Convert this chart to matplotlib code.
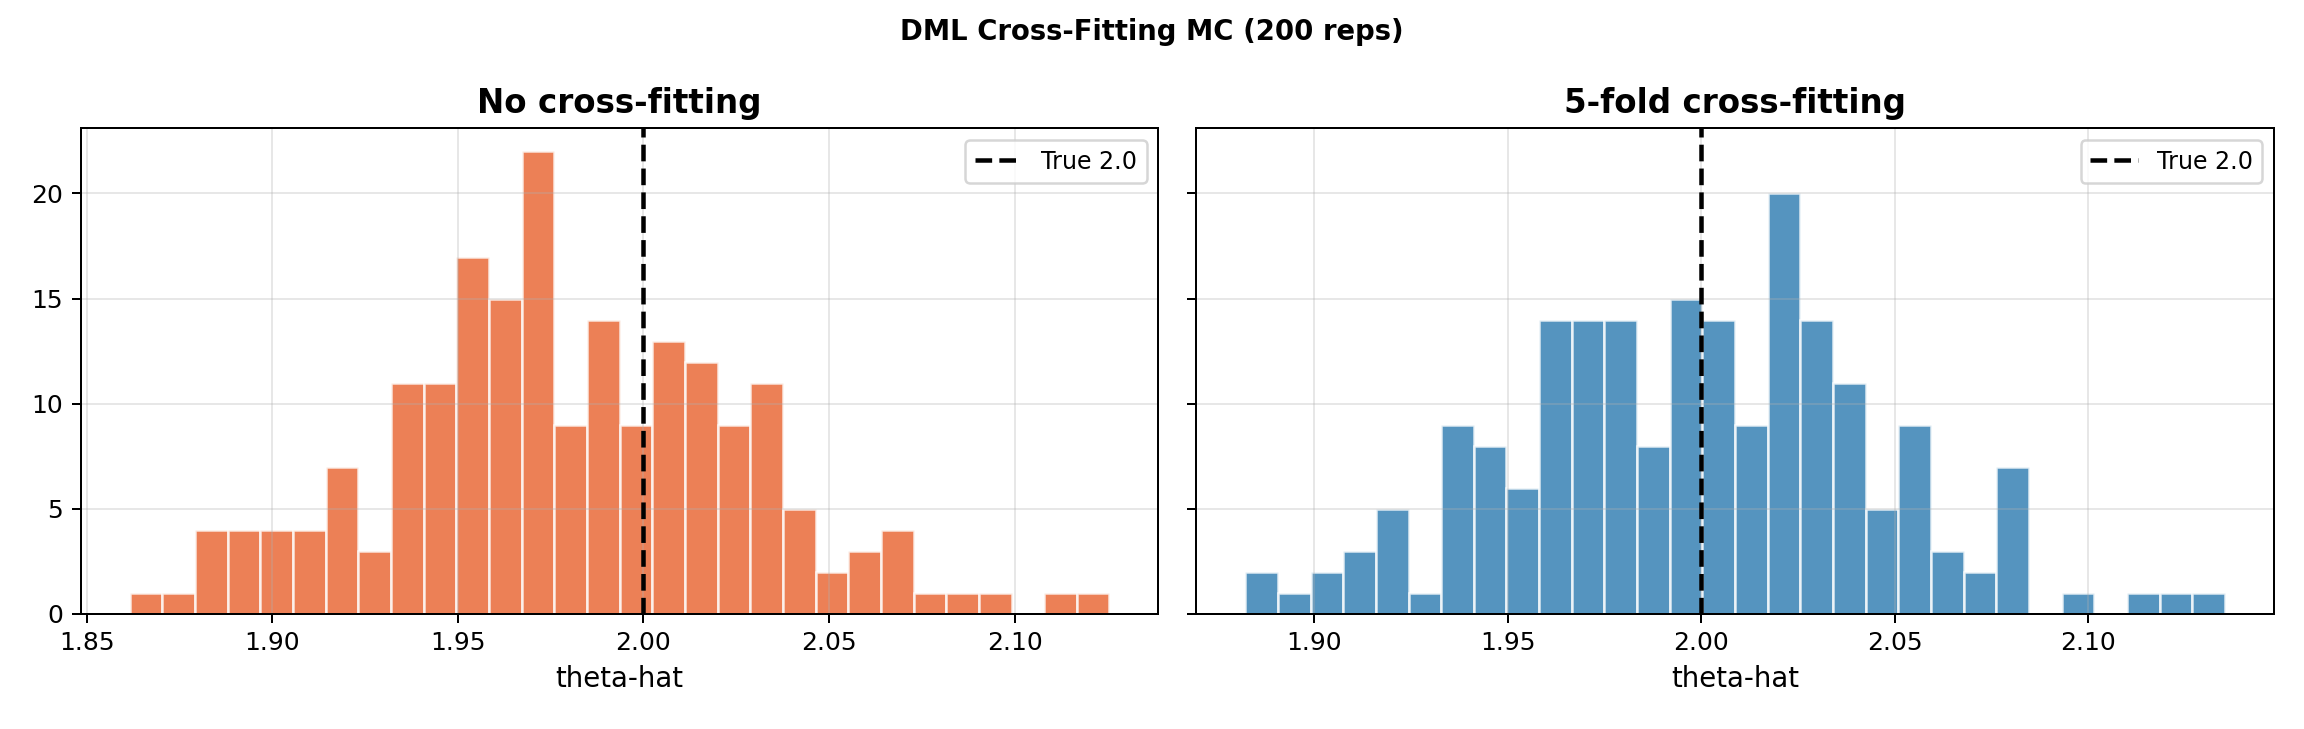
import numpy as np
import matplotlib
matplotlib.use("Agg")
from matplotlib import pyplot as plt

# histogram counts (30 bins each, 200 reps)
no_cf_counts = [1, 1, 4, 4, 4, 4, 7, 3, 11, 11, 17, 15, 22, 9, 14,
                9, 13, 12, 9, 11, 5, 2, 3, 4, 1, 1, 1, 0, 1, 1]
no_cf_range = (1.8615, 2.1256)

cf5_counts = [2, 1, 2, 3, 5, 1, 9, 8, 6, 14, 14, 14, 8, 15, 14,
              9, 20, 14, 11, 5, 9, 3, 2, 7, 0, 1, 0, 1, 1, 1]
cf5_range = (1.8822, 2.1353)

theta_true = 2.0
titles = ["No cross-fitting", "5-fold cross-fitting"]

fig, (ax1, ax2) = plt.subplots(1, 2, figsize=(12.8, 4.05), sharey=True)

panels = [(ax1, no_cf_counts, no_cf_range, "#E8602C"),
          (ax2, cf5_counts, cf5_range, "#2A79B0")]

for (ax, counts, rng, col), title in zip(panels, titles):
    edges = np.linspace(rng[0], rng[1], len(counts) + 1)
    centers = (edges[:-1] + edges[1:]) / 2
    ax.hist(centers, bins=edges, weights=counts, color=col, alpha=0.8,
            edgecolor="white", linewidth=1.0)
    ax.axvline(theta_true, color="black", ls="--", lw=1.8, label=f"True {theta_true}")
    ax.set_title(title, fontsize=13, fontweight="bold")
    ax.set_xlabel("theta-hat", fontsize=11)
    ax.grid(True, alpha=0.3)
    ax.legend(fontsize=9.5, loc="upper right")

fig.suptitle("DML Cross-Fitting MC (200 reps)", fontsize=11, fontweight="bold", y=0.975)
fig.subplots_adjust(left=0.035, right=0.987, top=0.824, bottom=0.158, wspace=0.035)
plt.savefig("out.png", dpi=180)
